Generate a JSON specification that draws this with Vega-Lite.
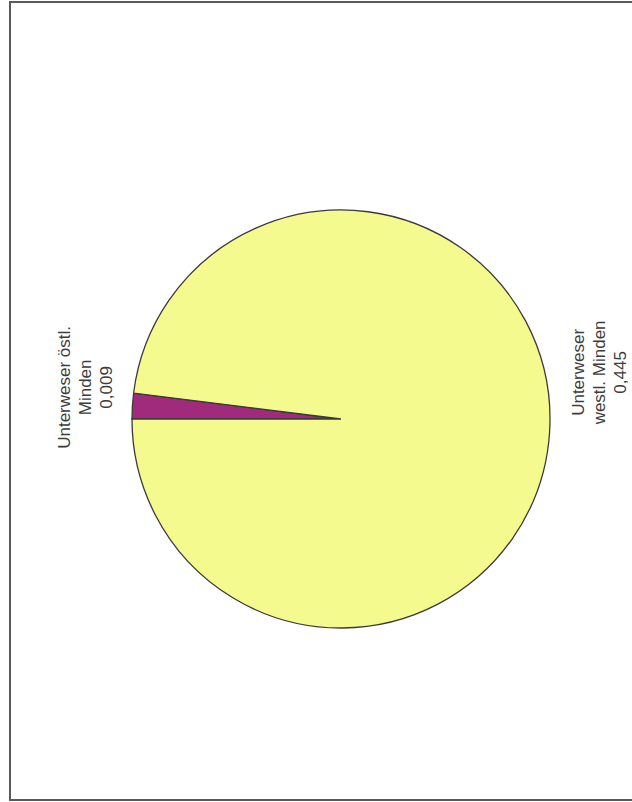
{
  "$schema": "https://vega.github.io/schema/vega-lite/v6.json",
  "width": 632,
  "height": 802,
  "autosize": {"type": "fit", "contains": "padding"},
  "padding": {"left": 10, "top": 2, "right": -6, "bottom": 2},
  "background": "white",
  "view": {"stroke": "#5a5a5a", "strokeWidth": 2},
  "config": {
    "view": {"stroke": "#5a5a5a", "strokeWidth": 2},
    "text": {"font": "Liberation Sans"}
  },
  "data": {
    "values": [
      {"name": "Unterweser östl. Minden", "label": "Unterweser östl.\nMinden\n0,009", "value": 0.009},
      {"name": "Unterweser westl. Minden", "label": "Unterweser\nwestl. Minden\n0,445", "value": 0.445}
    ]
  },
  "layer": [
    {
      "mark": {"type": "arc", "outerRadius": 209, "stroke": "#3a3a3a", "strokeWidth": 1.3, "xOffset": 17, "yOffset": 18},
      "encoding": {
        "theta": {"field": "value", "type": "quantitative", "stack": true, "scale": {"range": [4.71239, 10.99557]}},
        "order": {"field": "value", "type": "quantitative", "sort": "ascending"},
        "color": {
          "field": "name",
          "type": "nominal",
          "scale": {"domain": ["Unterweser östl. Minden", "Unterweser westl. Minden"], "range": ["#a02a7c", "#f5fa8e"]},
          "legend": null
        }
      }
    },
    {
      "mark": {"type": "text", "angle": 270, "align": "center", "baseline": "middle", "fontSize": 17, "lineHeight": 21, "lineBreak": "\n", "dy": -21, "color": "#3c3c3c", "xOffset": 20, "yOffset": 18},
      "encoding": {
        "theta": {"field": "value", "type": "quantitative", "stack": true, "scale": {"range": [4.778, 10.457]}},
        "order": {"field": "value", "type": "quantitative", "sort": "ascending"},
        "radius": {"value": 260},
        "text": {"field": "label", "type": "nominal"}
      }
    }
  ],
  "resolve": {"scale": {"theta": "independent"}}
}
